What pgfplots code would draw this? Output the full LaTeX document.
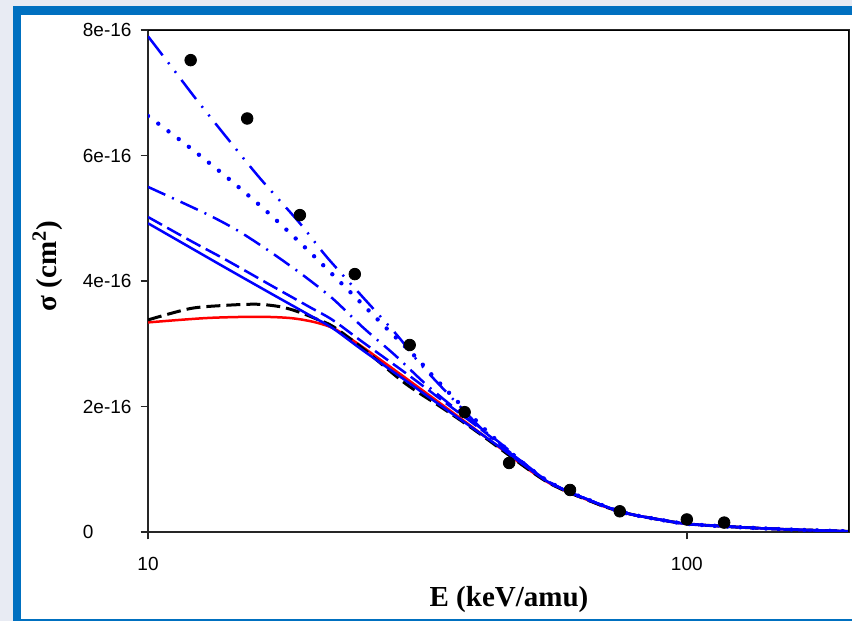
\documentclass[border=0pt]{standalone}
\usepackage{pgfplots}
\pgfplotsset{compat=1.18}
\usepackage{fontspec}
\setmainfont{Liberation Serif}
\newfontfamily\arial{Liberation Sans}
\definecolor{bgc}{HTML}{E8EBF3}
\definecolor{frm}{HTML}{0070C0}
\definecolor{pblue}{HTML}{0000FF}
\definecolor{pred}{HTML}{FF0000}

\pgfplotstableread{
E y
12.0 7.52
15.28 6.59
19.14 5.05
24.2 4.11
30.6 2.98
38.7 1.91
46.8 1.10
60.7 0.67
75.1 0.33
100 0.20
117.3 0.15
}\expdata

\pgfplotstableread{
E y
10 7.90
11.13 7.38
12.33 6.88
14.02 6.28
16.13 5.64
19.14 4.92
21.48 4.38
25.06 3.74
28.97 3.14
32 2.68
36.8 2.12
43.65 1.47
50 1.09
55 0.82
60 0.65
65 0.53
70 0.42
75 0.33
80 0.27
90 0.19
100 0.13
120 0.085
150 0.045
200 0.01
}\curveA

\pgfplotstableread{
E y
10 6.63
11.86 6.15
14.07 5.64
16.7 5.09
19.81 4.49
23.5 3.86
27.76 3.24
31.55 2.77
34.1 2.45
41.8 1.67
45.9 1.35
50 1.08
55 0.82
60 0.65
65 0.53
70 0.42
75 0.33
80 0.27
90 0.19
100 0.13
120 0.085
150 0.045
200 0.01
}\curveB

\pgfplotstableread{
E y
10 5.50
12.76 5.08
14.63 4.81
16.7 4.49
19.14 4.13
21.95 3.73
25.06 3.26
28.72 2.82
32.93 2.34
37.9 1.91
45 1.42
50 1.09
55 0.82
60 0.65
65 0.53
70 0.42
75 0.33
80 0.27
90 0.19
100 0.13
120 0.085
150 0.045
200 0.01
}\curveE

\pgfplotstableread{
E y
10 5.02
12 4.64
14 4.33
17 3.92
20 3.58
22 3.38
25 3.03
30 2.54
35 2.11
40 1.74
45 1.40
50 1.08
55 0.82
60 0.65
65 0.53
70 0.42
75 0.33
80 0.27
90 0.19
100 0.13
120 0.085
150 0.045
200 0.01
}\curveD

\pgfplotstableread{
E y
10 4.92
12 4.53
14 4.20
17 3.79
20 3.45
22 3.25
25 2.90
30 2.42
35 2.01
40 1.66
45 1.35
50 1.06
55 0.81
60 0.65
65 0.53
70 0.42
75 0.33
80 0.27
90 0.19
100 0.13
120 0.085
150 0.045
200 0.01
}\curveC

\pgfplotstableread{
E y
10 3.34
12.85 3.41
15.92 3.43
18.35 3.41
20.26 3.35
21.77 3.27
22.7 3.19
25 2.95
30 2.46
35 2.04
40 1.67
45 1.34
50 1.04
55 0.80
60 0.64
65 0.52
70 0.41
75 0.33
80 0.27
90 0.19
100 0.13
120 0.085
150 0.045
200 0.01
}\curveR

\pgfplotstableread{
E y
10 3.38
11.96 3.56
13.8 3.61
15.9 3.63
17.6 3.59
19.0 3.51
20.6 3.39
22.1 3.27
25 2.93
30 2.37
35 1.99
40 1.65
45 1.33
50 1.04
55 0.80
60 0.64
65 0.52
70 0.41
75 0.33
80 0.27
90 0.19
100 0.13
120 0.085
150 0.045
200 0.01
}\curveK

\begin{document}
\begin{tikzpicture}
\useasboundingbox (0,0) rectangle (426pt,310.5pt);
\fill[bgc] (0,0) rectangle (426pt,310.5pt);
\fill[frm] (6.5pt,0) rectangle (430pt,307.5pt);
\fill[white] (10.5pt,1pt) rectangle (430pt,303pt);
\begin{axis}[
  at={(74pt,44.5pt)}, anchor=south west,
  scale only axis, width=350.5pt, height=251pt,
  xmode=log, xmin=10, xmax=200, ymin=0, ymax=8,
  xtick={10,100}, xticklabels={10,100},
  xminorticks=false,
  ytick={0,2,4,6,8}, yticklabels={0,2e-16,4e-16,6e-16,8e-16},
  xtick pos=bottom, ytick pos=left,
  tick align=outside, major tick length=3.75pt,
  tick style={black!85, line width=0.8pt},
  axis line style={black!85, line width=1pt},
  ticklabel style={font=\arial\fontsize{9.5}{11}\selectfont},
  yticklabel style={anchor=west, inner sep=0pt, xshift=-29pt},
  xticklabel style={anchor=north, inner sep=0pt, yshift=-8.5pt},
  xlabel={\bfseries E (keV/amu)},
  ylabel={\bfseries σ (cm\textsuperscript{2})},
  label style={font=\fontsize{14.5}{17}\selectfont},
  xlabel style={at={(axis description cs:0.515,-0.135)}, anchor=center},
  ylabel style={at={(axis description cs:-0.1434,0.53)}, anchor=center, rotate=0},
]
\addplot[only marks, mark=*, mark size=2.9pt, black] table[x=E,y=y] {\expdata};
\addplot[pred, line width=1.25pt, smooth] table[x=E,y=y] {\curveR};
\addplot[black, line width=1.5pt, dash pattern=on 7pt off 3pt, smooth] table[x=E,y=y] {\curveK};
\addplot[pblue, line width=1.25pt, smooth] table[x=E,y=y] {\curveC};
\addplot[pblue, line width=1.25pt, dash pattern=on 8pt off 3pt, smooth] table[x=E,y=y] {\curveD};
\addplot[pblue, line width=1.25pt, dash pattern=on 9.5pt off 3.7pt on 1pt off 3.7pt, smooth] table[x=E,y=y] {\curveE};
\addplot[pblue, line width=2.2pt, line cap=round, dash pattern=on 0pt off 6.4pt, smooth] table[x=E,y=y] {\curveB};
\addplot[pblue, line width=1.25pt, dash pattern=on 12pt off 4.5pt on 1pt off 4.5pt on 1pt off 4.5pt, smooth] table[x=E,y=y] {\curveA};
\draw[black, line width=1pt] (rel axis cs:0,1) -- (rel axis cs:1,1) -- (rel axis cs:1,0);
\end{axis}
\end{tikzpicture}
\end{document}
